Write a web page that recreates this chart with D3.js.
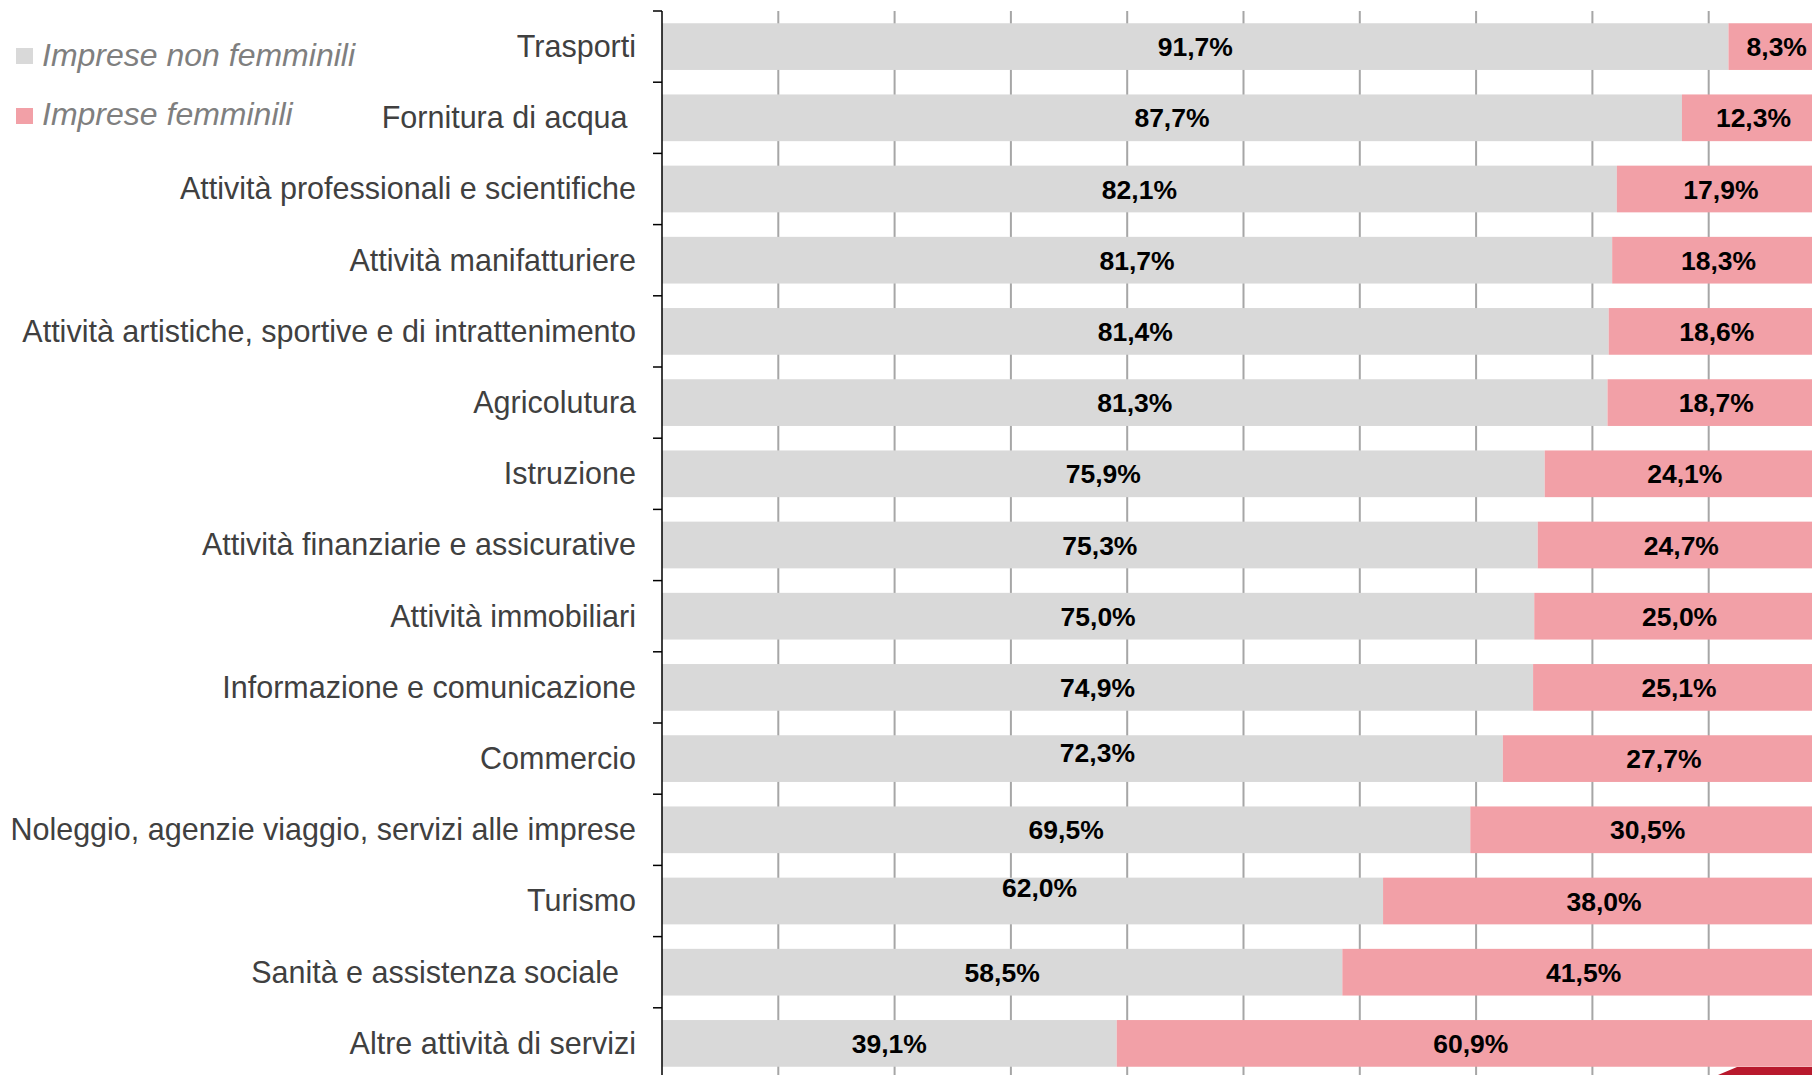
<!DOCTYPE html>
<html>
<head>
<meta charset="utf-8">
<script src="https://cdn.jsdelivr.net/npm/d3@7"></script>
<style>
    body { margin: 0; background: #fff; }
    svg { display: block; font-family: "Liberation Sans", Arial, sans-serif; }
</style>
</head>
<body>
<div class="chart"></div>
<script>
// data
var categories = [
    "Trasporti",
    "Fornitura di acqua ",
    "Attività professionali e scientifiche",
    "Attività manifatturiere",
    "Attività artistiche, sportive e di intrattenimento",
    "Agricolutura",
    "Istruzione",
    "Attività finanziarie e assicurative",
    "Attività immobiliari",
    "Informazione e comunicazione",
    "Commercio",
    "Noleggio, agenzie viaggio, servizi alle imprese",
    "Turismo",
    "Sanità e assistenza sociale  ",
    "Altre attività di servizi"
];
var nonFemminili = [91.7, 87.7, 82.1, 81.7, 81.4, 81.3, 75.9, 75.3, 75.0, 74.9, 72.3, 69.5, 62.0, 58.5, 39.1];
var femminili = [8.3, 12.3, 17.9, 18.3, 18.6, 18.7, 24.1, 24.7, 25.0, 25.1, 27.7, 30.5, 38.0, 41.5, 60.9];
var seriesNames = ["Imprese non femminili", "Imprese femminili"];
var gridTicks = [10, 20, 30, 40, 50, 60, 70, 80, 90];

var colors = ["#d9d9d9", "#f2a0a7"];

var svgWidth = 1812;
var svgHeight = 1075;

// plot area (the right side runs past the page edge, like the original)
var plotLeft = 662;
var plotRight = 1825;
var plotTop = 11;
var plotBottom = 1079;

// a couple of grey labels sit off-centre in the original
var labelNudge = { "Commercio": [15, -6], "Turismo": [17, -14] };

var svg = d3.select(".chart")
    .append("svg")
    .attr("width", svgWidth)
    .attr("height", svgHeight);

var x = d3.scaleLinear().domain([0, 100]).range([plotLeft, plotRight]);
var y = d3.scaleBand()
    .domain(categories)
    .range([plotTop, plotBottom])
    .paddingInner(0.344)
    .paddingOuter(0.172);

var fmt = d3.formatLocale({ decimal: ",", thousands: ".", grouping: [3], currency: ["", "€"] }).format(".1f");

// vertical gridlines
svg.append("g")
    .selectAll("line")
    .data(gridTicks)
    .enter()
    .append("line")
    .attr("x1", d => x(d))
    .attr("x2", d => x(d))
    .attr("y1", plotTop)
    .attr("y2", svgHeight)
    .attr("stroke", "#a6a6a6")
    .attr("stroke-width", 2);

var rows = categories.map((c, i) => ({ cat: c, a: nonFemminili[i], b: femminili[i] }));

// grey segments
svg.append("g")
    .selectAll("rect")
    .data(rows)
    .enter()
    .append("rect")
    .attr("x", x(0))
    .attr("y", d => y(d.cat))
    .attr("width", d => x(d.a) - x(0))
    .attr("height", y.bandwidth())
    .attr("fill", colors[0]);

// pink segments
svg.append("g")
    .selectAll("rect")
    .data(rows)
    .enter()
    .append("rect")
    .attr("x", d => x(d.a))
    .attr("y", d => y(d.cat))
    .attr("width", d => x(d.a + d.b) - x(d.a))
    .attr("height", y.bandwidth())
    .attr("fill", colors[1]);

// value labels
var valueGroup = svg.append("g")
    .attr("font-weight", "bold")
    .attr("font-size", "26.5px")
    .attr("fill", "#000")
    .attr("text-anchor", "middle");

function nudge(d, k) {
    return labelNudge[d.cat] ? labelNudge[d.cat][k] : 0;
}

valueGroup.selectAll(".lblA")
    .data(rows)
    .enter()
    .append("text")
    .attr("x", d => (x(0) + x(d.a)) / 2 + nudge(d, 0))
    .attr("y", d => y(d.cat) + y.bandwidth() / 2 + nudge(d, 1))
    .attr("dy", "0.36em")
    .text(d => fmt(d.a) + "%");

valueGroup.selectAll(".lblB")
    .data(rows)
    .enter()
    .append("text")
    .attr("x", d => (x(d.a) + x(d.a + d.b)) / 2)
    .attr("y", d => y(d.cat) + y.bandwidth() / 2)
    .attr("dy", "0.36em")
    .text(d => fmt(d.b) + "%");

// category axis
var leftAxis = d3.axisLeft(y).tickSize(0).tickPadding(26);
var yAxis = svg.append("g")
    .attr("transform", `translate(${plotLeft},0)`)
    .call(leftAxis);
yAxis.select(".domain").remove();
yAxis.selectAll("text")
    .attr("font-size", "30.5px")
    .attr("font-family", "\"Liberation Sans\", Arial, sans-serif")
    .attr("fill", "#404040")
    .attr("dy", "0.34em")
    .style("white-space", "pre");

// axis line and ticks between categories
svg.append("line")
    .attr("x1", plotLeft)
    .attr("x2", plotLeft)
    .attr("y1", plotTop)
    .attr("y2", svgHeight)
    .attr("stroke", "#000")
    .attr("stroke-width", 1.5);

var bounds = categories.map(c => y(c) - y.step() * y.paddingInner() / 2);
svg.append("g")
    .selectAll("line")
    .data(bounds)
    .enter()
    .append("line")
    .attr("x1", plotLeft - 9)
    .attr("x2", plotLeft)
    .attr("y1", d => d)
    .attr("y2", d => d)
    .attr("stroke", "#000")
    .attr("stroke-width", 1.5);

// legend
var legend = svg.append("g");
seriesNames.forEach(function (name, i) {
    legend.append("rect")
        .attr("x", 16)
        .attr("y", 48 + i * 60)
        .attr("width", 17)
        .attr("height", 16)
        .attr("fill", colors[i]);
    legend.append("text")
        .attr("x", 42)
        .attr("y", 66 + i * 59)
        .attr("font-size", "32px")
        .attr("font-style", "italic")
        .attr("fill", "#7f7f7f")
        .text(name);
});

// red decoration at bottom right corner
svg.append("polygon")
    .attr("points", "1718,1075 1737,1067 1812,1067 1812,1075")
    .attr("fill", "#b8192d");
</script>
</body>
</html>
